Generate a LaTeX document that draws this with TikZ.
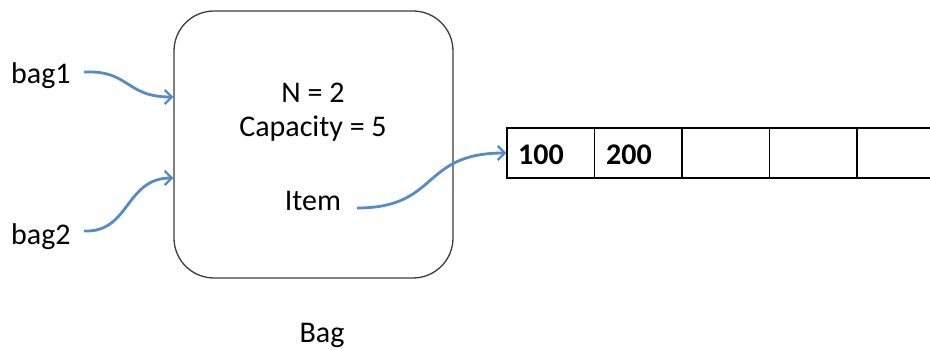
\documentclass[tikz,border=0pt]{standalone}
\usepackage{fontspec}
\setmainfont{Carlito}
\usetikzlibrary{arrows.meta}
\definecolor{arrowblue}{RGB}{86,140,198}
\definecolor{boxgray}{RGB}{60,60,60}
\tikzset{
  txt/.style={anchor=base, inner sep=0pt, font=\fontsize{30}{35}\selectfont},
  numtxt/.style={anchor=base west, inner sep=0pt, font=\fontsize{30}{35}\selectfont\bfseries},
  bagbox/.style={draw=boxgray, line width=1.3pt, rounded corners=40pt, minimum width=279pt, minimum height=267pt},
  cell/.style={draw=black, line width=1.4pt, minimum width=87.5pt, minimum height=50pt, inner sep=0pt},
  link/.style={draw=arrowblue, line width=2.8pt, -{Straight Barb[length=7pt,width=14pt,line width=2.3pt]}},
}
\begin{document}
\begin{tikzpicture}[x=1pt,y=-1pt]
\clip (0,0) rectangle (930,350);
\fill[white] (0,0) rectangle (930,350);
\node[bagbox] (box) at (313.5,144.5) {};
\node[txt] (n) at (313,103) {N = 2};
\node[txt] (cap) at (313,137) {Capacity = 5};
\node[txt] (item) at (313,211) {Item};
\node[txt] (bag) at (322,342) {Bag};
\node[txt, anchor=base west] (bag1) at (11,84) {bag1};
\node[txt, anchor=base west] (bag2) at (11,244) {bag2};
\node[cell] (c1) at (550.75,153) {};
\node[cell] (c2) at (638.25,153) {};
\node[cell] (c3) at (725.75,153) {};
\node[cell] (c4) at (813.25,153) {};
\node[cell] (c5) at (900.75,153) {};
\node[numtxt] (v1) at (518,165) {100};
\node[numtxt] (v2) at (606,165) {200};
\coordinate (b1s) at (84,72);
\coordinate (b1e) at (172,97);
\coordinate (b2s) at (84,231);
\coordinate (b2e) at (172,178);
\coordinate (its) at (357,208);
\path[link] (b1s) .. controls (130,70) and (125,97) .. (box.west |- b1e);
\path[link] (b2s) .. controls (130,233) and (125,178) .. (box.west |- b2e);
\path[link] (its) .. controls (440,208) and (420,153) .. (c1.west);
\end{tikzpicture}
\end{document}
